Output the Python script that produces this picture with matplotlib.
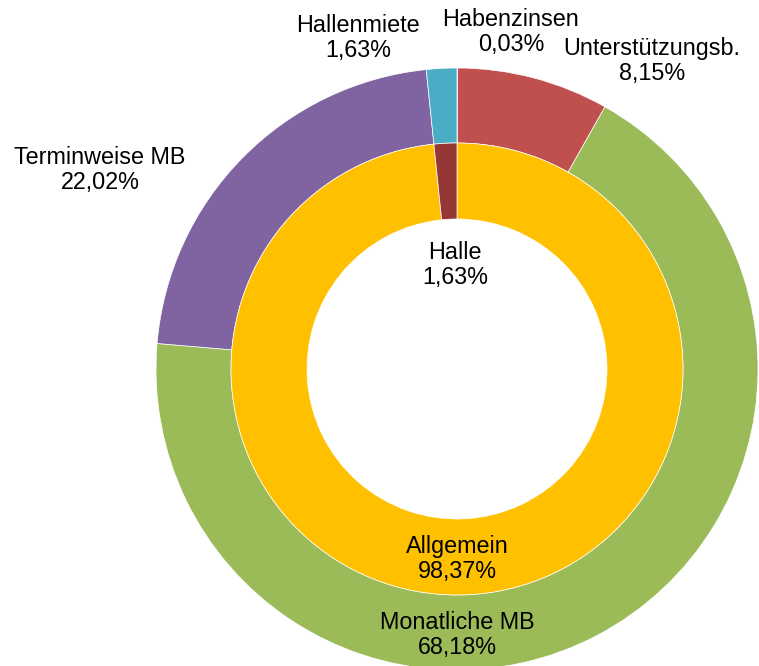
import matplotlib
matplotlib.use("Agg")
import matplotlib.pyplot as plt

# Data
outer_labels = ["Habenzinsen", "Unterstützungsb.", "Monatliche MB", "Terminweise MB", "Hallenmiete"]
outer_values = [0.03, 8.15, 68.18, 22.02, 1.63]
outer_colors = ["#4F81BD", "#C0504D", "#9BBB59", "#8064A2", "#4BACC6"]

inner_labels = ["Allgemein", "Halle"]
inner_values = [98.37, 1.63]
inner_colors = ["#FFC000", "#953735"]

W, H = 759, 666
fig = plt.figure(figsize=(W / 100, H / 100), dpi=100)
ax = fig.add_axes([0, 0, 1, 1])

center = (457, H - 369)
wp = dict(edgecolor="white", linewidth=0.5)
ax.pie(outer_values, colors=outer_colors, startangle=90, counterclock=False,
       radius=301, center=center, wedgeprops=dict(width=75, **wp), frame=True)
ax.pie(inner_values, colors=inner_colors, startangle=90, counterclock=False,
       radius=226, center=center, wedgeprops=dict(width=76, **wp), frame=True)
ax.set_xlim(0, W)
ax.set_ylim(0, H)
ax.set_aspect("equal")
ax.axis("off")

def pct(v):
    return f"{v:.2f}".replace(".", ",") + "%"

label_pos = {
    "Habenzinsen": (511, 634),
    "Unterstützungsb.": (652, 605),
    "Monatliche MB": (457, 31),
    "Terminweise MB": (100, 496),
    "Hallenmiete": (358, 628),
    "Allgemein": (457, 107),
    "Halle": (455, 401),
}
font = dict(fontsize=16.8, family=["Liberation Sans", "DejaVu Sans"], color="black",
            ha="center", va="center", multialignment="center", linespacing=1.12)
for lab, v in zip(outer_labels + inner_labels, outer_values + inner_values):
    x, y = label_pos[lab]
    ax.text(x, y, f"{lab}\n{pct(v)}", **font)

fig.savefig("out.png", dpi=100)
